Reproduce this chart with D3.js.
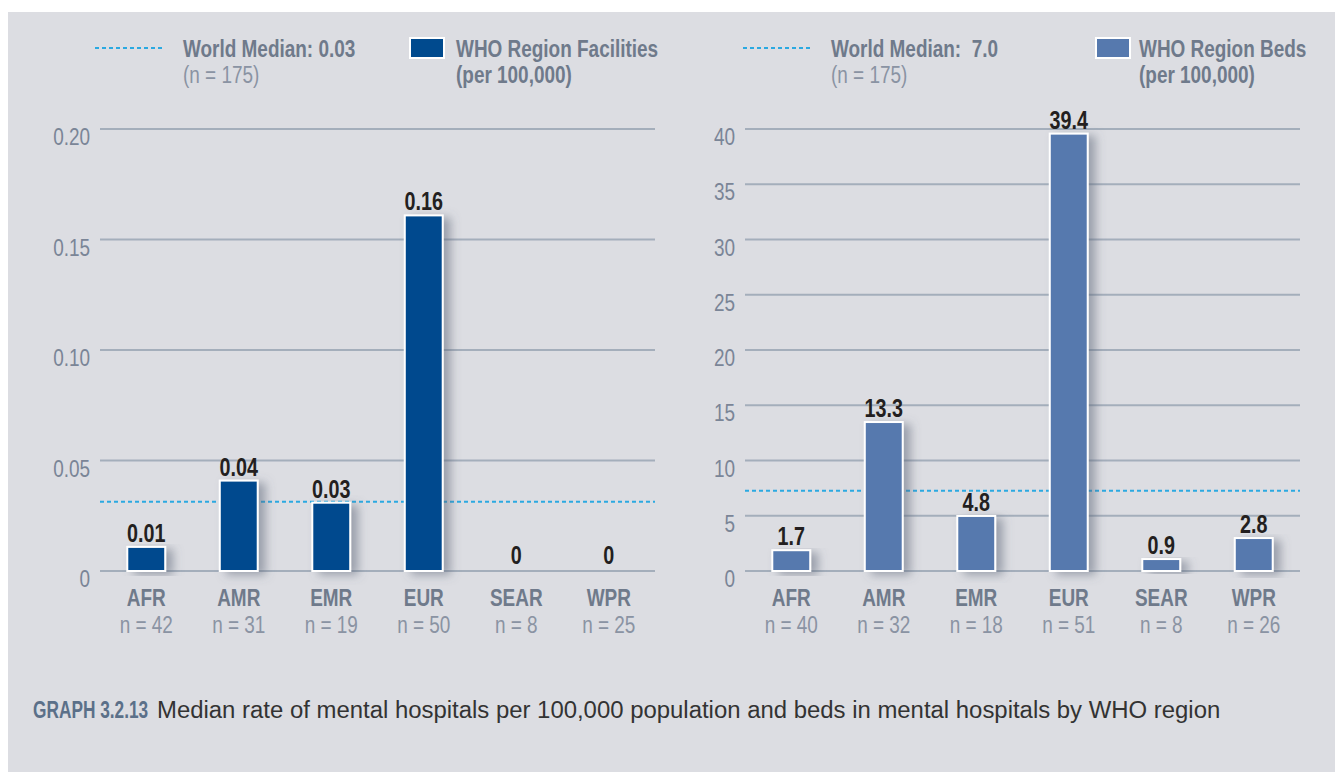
<!DOCTYPE html>
<html>
<head>
<meta charset="utf-8">
<script src="https://cdn.jsdelivr.net/npm/d3@7"></script>
<style>
  body { margin: 0; background: #fff; }
  svg { display: block; }
  text { font-family: "Liberation Sans", Arial, sans-serif; white-space: pre; }
</style>
</head>
<body>
<svg id="chart" width="1335" height="772"></svg>
<script>
// data
const regions = ["AFR", "AMR", "EMR", "EUR", "SEAR", "WPR"];
const facilities = [0.01, 0.04, 0.03, 0.16, 0, 0];
const facilitiesN = [42, 31, 19, 50, 8, 25];
const beds = [1.7, 13.3, 4.8, 39.4, 0.9, 2.8];
const bedsN = [40, 32, 18, 51, 8, 26];
const facilitiesTicks = [0, 0.05, 0.10, 0.15, 0.20];
const bedsTicks = [0, 5, 10, 15, 20, 25, 30, 35, 40];
const facilitiesMedian = 0.03;
const bedsMedian = 7.0;
const worldN = 175;

const svg = d3.select("#chart");
const SX = 0.79; // fake a condensed face

// text helper: squeezes horizontally around its anchor point
function label(parent, x, y, str, o) {
  o = o || {};
  return parent.append("text")
    .attr("transform", `translate(${x},${y}) scale(${o.sx || SX},1)`)
    .attr("text-anchor", o.anchor || "start")
    .attr("font-size", o.size || 24)
    .attr("font-weight", o.bold ? "bold" : "normal")
    .attr("fill", o.fill || "#6f7a8b")
    .text(str);
}

// background panel
svg.append("rect").attr("x", 8).attr("y", 12).attr("width", 1327).attr("height", 760).attr("fill", "#dcdde2");

const defs = svg.append("defs");
const flt = defs.append("filter").attr("id", "shadow").attr("x", "-60%").attr("y", "-10%").attr("width", "240%").attr("height", "130%");
flt.append("feDropShadow").attr("dx", 7).attr("dy", 3).attr("stdDeviation", 5).attr("flood-color", "#5a6275").attr("flood-opacity", 0.5);

const gridColor = "#a4aebb";
const tickColor = "#7a8597";
const labelColor = "#6f7a8b";
const lightColor = "#8a93a3";
const medianColor = "#2ba9e1";

function drawPanel(opt) {
  const x = d3.scaleBand().domain(regions).range([opt.x0, opt.x1]);
  const y = d3.scaleLinear().domain([0, opt.max]).range([571, 129]);
  const g = svg.append("g");

  // gridlines
  g.selectAll(".grid").data(opt.ticks).enter().append("line")
    .attr("x1", opt.x0).attr("x2", opt.x1)
    .attr("y1", d => y(d)).attr("y2", d => y(d))
    .attr("stroke", gridColor).attr("stroke-width", 2);

  // tick labels
  opt.ticks.forEach(t => label(g, opt.x0 - 10, y(t) + 16, opt.fmt(t), { anchor: "end", fill: tickColor }));

  // median line
  g.append("line")
    .attr("x1", opt.x0).attr("x2", opt.x1)
    .attr("y1", y(opt.median) - 3).attr("y2", y(opt.median) - 3)
    .attr("stroke", medianColor).attr("stroke-width", 2).attr("stroke-dasharray", "4,3");

  const bw = x.bandwidth() * 0.41;
  const cx = d => x(d) + x.bandwidth() / 2;

  // bars
  g.selectAll(".bar").data(regions.map((r, i) => ({ r: r, v: opt.values[i] })).filter(d => d.v > 0))
    .enter().append("rect")
    .attr("x", d => cx(d.r) - bw / 2)
    .attr("y", d => y(d.v) - 2)
    .attr("width", bw)
    .attr("height", d => y(0) - y(d.v) + 2)
    .attr("fill", opt.color).attr("stroke", "#fff").attr("stroke-width", 2)
    .attr("filter", "url(#shadow)");

  // value labels
  regions.forEach((r, i) => label(g, cx(r), y(opt.values[i]) - 7, opt.valFmt(opt.values[i]),
    { anchor: "middle", bold: true, fill: "#231f20", size: 25 }));

  // category labels
  regions.forEach((r, i) => {
    label(g, cx(r), 606, r, { anchor: "middle", bold: true });
    label(g, cx(r), 633, "n = " + opt.n[i], { anchor: "middle", fill: lightColor });
  });

  // legend
  const lx = opt.legendX;
  g.append("line").attr("x1", lx).attr("x2", lx + 68).attr("y1", 48).attr("y2", 48)
    .attr("stroke", medianColor).attr("stroke-width", 2).attr("stroke-dasharray", "4,3");
  label(g, lx + 88, 57, opt.medianLabel, { bold: true });
  label(g, lx + 88, 83, "(n = " + worldN + ")", { fill: lightColor });
  g.append("rect").attr("x", opt.swatchX).attr("y", 38).attr("width", 34).attr("height", 20)
    .attr("fill", opt.color).attr("stroke", "#fff").attr("stroke-width", 2);
  label(g, opt.swatchX + opt.swatchGap, 57, opt.seriesName, { bold: true });
  label(g, opt.swatchX + opt.swatchGap, 83, "(per 100,000)", { bold: true });
}

drawPanel({
  x0: 100, x1: 655, max: 0.20, ticks: facilitiesTicks, values: facilities, n: facilitiesN,
  median: facilitiesMedian, color: "#004a8e",
  fmt: d => d === 0 ? "0" : d3.format(".2f")(d),
  valFmt: d => d === 0 ? "0" : d3.format(".2f")(d),
  legendX: 95, swatchX: 410, swatchGap: 46,
  medianLabel: "World Median: " + d3.format(".2f")(facilitiesMedian),
  seriesName: "WHO Region Facilities"
});

drawPanel({
  x0: 745, x1: 1300, max: 40, ticks: bedsTicks, values: beds, n: bedsN,
  median: bedsMedian, color: "#5679ae",
  fmt: d => d3.format("d")(d),
  valFmt: d => d3.format(".1f")(d),
  legendX: 743, swatchX: 1096, swatchGap: 43,
  medianLabel: "World Median:  " + d3.format(".1f")(bedsMedian),
  seriesName: "WHO Region Beds"
});

// caption
label(svg, 33, 718, "GRAPH 3.2.13", { bold: true, fill: "#5b7089", size: 24, sx: 0.72 });
label(svg, 157, 718, "Median rate of mental hospitals per 100,000 population and beds in mental hospitals by WHO region",
  { sx: 1.04, size: 23, fill: "#333" });
</script>
</body>
</html>
